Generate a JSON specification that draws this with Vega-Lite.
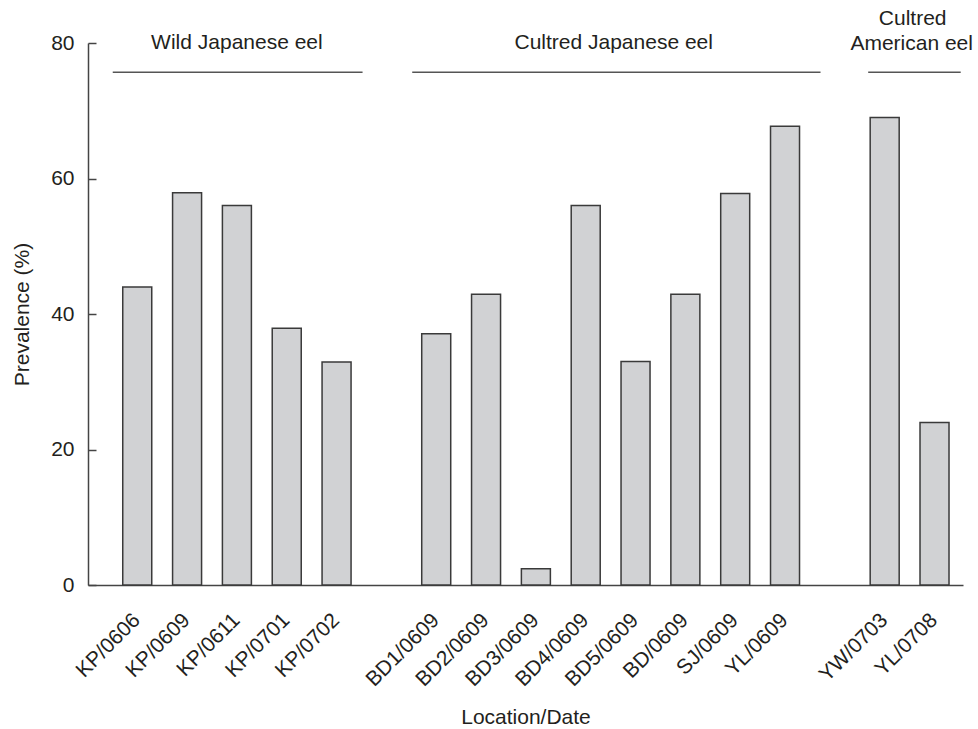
{
  "$schema": "https://vega.github.io/schema/vega-lite/v6.json",
  "autosize": "none",
  "width": 875,
  "height": 542,
  "padding": {"left": 88, "top": 43, "right": 15, "bottom": 144},
  "background": "white",
  "config": {
    "view": {"stroke": null},
    "font": "Liberation Sans",
    "text": {"font": "Liberation Sans", "fontSize": 21, "color": "#231f20"}
  },
  "datasets": {
    "prevalence": [
      {"site": "KP/0606", "prevalence": 44},
      {"site": "KP/0609", "prevalence": 57.9},
      {"site": "KP/0611", "prevalence": 56},
      {"site": "KP/0701", "prevalence": 37.9},
      {"site": "KP/0702", "prevalence": 32.9},
      {"site": "BD1/0609", "prevalence": 37.1},
      {"site": "BD2/0609", "prevalence": 42.9},
      {"site": "BD3/0609", "prevalence": 2.4},
      {"site": "BD4/0609", "prevalence": 56},
      {"site": "BD5/0609", "prevalence": 33},
      {"site": "BD/0609", "prevalence": 42.9},
      {"site": "SJ/0609", "prevalence": 57.8},
      {"site": "YL/0609", "prevalence": 67.7},
      {"site": "YW/0703", "prevalence": 69},
      {"site": "YL/0708", "prevalence": 24}
    ]
  },
  "layer": [
    {
      "data": {"name": "prevalence"},
      "mark": {"type": "bar", "fill": "#d1d2d4", "stroke": "#3a3a3a", "strokeWidth": 1.5},
      "encoding": {
        "x": {
          "field": "site",
          "type": "nominal",
          "sort": null,
          "scale": {
            "domain": ["KP/0606", "KP/0609", "KP/0611", "KP/0701", "KP/0702", "gap1", "BD1/0609", "BD2/0609", "BD3/0609", "BD4/0609", "BD5/0609", "BD/0609", "SJ/0609", "YL/0609", "gap2", "YW/0703", "YL/0708"],
            "paddingInner": 0.418,
            "paddingOuter": 0.489,
            "align": 0.713
          },
          "axis": {
            "title": "Location/Date",
            "labelExpr": "indexof(datum.value, 'gap') == 0 ? '' : datum.value",
            "labelAngle": -45,
            "labelFont": "Liberation Sans",
            "labelFontSize": 21,
            "labelColor": "#231f20",
            "labelPadding": 24,
            "labelOffset": -8,
            "ticks": false,
            "domain": true,
            "domainColor": "#444444",
            "domainWidth": 1.5,
            "titleFont": "Liberation Sans",
            "titleFontSize": 21,
            "titleFontWeight": "normal",
            "titleColor": "#231f20",
            "titlePadding": 17
          }
        },
        "y": {
          "field": "prevalence",
          "type": "quantitative",
          "scale": {"domain": [0, 80], "nice": false},
          "axis": {
            "title": "Prevalence (%)",
            "values": [0, 20, 40, 60, 80],
            "grid": false,
            "tickSize": -8,
            "tickColor": "#444444",
            "tickWidth": 1.5,
            "domainColor": "#444444",
            "domainWidth": 1.5,
            "labelFont": "Liberation Sans",
            "labelFontSize": 21,
            "labelColor": "#231f20",
            "labelPadding": 22,
            "titleFont": "Liberation Sans",
            "titleFontSize": 21,
            "titleFontWeight": "normal",
            "titleColor": "#231f20",
            "titlePadding": 18
          }
        }
      }
    },
    {
      "data": {"values": [{"first": "KP/0606", "last": "KP/0702"}]},
      "mark": {"type": "rule", "stroke": "#555555", "strokeWidth": 1.5, "xOffset": -10, "x2Offset": 11.5},
      "encoding": {
        "x": {"field": "first", "type": "nominal", "bandPosition": 0},
        "x2": {"field": "last", "bandPosition": 1},
        "y": {"datum": 75.7}
      }
    },
    {
      "data": {"values": [{"first": "BD1/0609", "last": "YL/0609"}]},
      "mark": {"type": "rule", "stroke": "#555555", "strokeWidth": 1.5, "xOffset": -9.5, "x2Offset": 21},
      "encoding": {
        "x": {"field": "first", "type": "nominal", "bandPosition": 0},
        "x2": {"field": "last", "bandPosition": 1},
        "y": {"datum": 75.7}
      }
    },
    {
      "data": {"values": [{"first": "YW/0703", "last": "YL/0708"}]},
      "mark": {"type": "rule", "stroke": "#555555", "strokeWidth": 1.5, "xOffset": -2, "x2Offset": 11.7},
      "encoding": {
        "x": {"field": "first", "type": "nominal", "bandPosition": 0},
        "x2": {"field": "last", "bandPosition": 1},
        "y": {"datum": 75.7}
      }
    },
    {
      "data": {"values": [{"anchor": "KP/0611", "label": "Wild Japanese eel"}]},
      "mark": {"type": "text", "align": "center", "baseline": "alphabetic", "dy": 6},
      "encoding": {
        "x": {"field": "anchor", "type": "nominal"},
        "y": {"datum": 80},
        "text": {"field": "label"}
      }
    },
    {
      "data": {"values": [{"anchor": "BD4/0609", "label": "Cultred Japanese eel"}]},
      "mark": {"type": "text", "align": "center", "baseline": "alphabetic", "dy": 6, "dx": 28},
      "encoding": {
        "x": {"field": "anchor", "type": "nominal"},
        "y": {"datum": 80},
        "text": {"field": "label"}
      }
    },
    {
      "data": {"values": [{"anchor": "YW/0703", "label": "American eel"}]},
      "mark": {"type": "text", "align": "center", "baseline": "alphabetic", "dy": 6.5, "dx": 27},
      "encoding": {
        "x": {"field": "anchor", "type": "nominal"},
        "y": {"datum": 80},
        "text": {"field": "label"}
      }
    },
    {
      "data": {"values": [{"anchor": "YW/0703", "label": "Cultred"}]},
      "mark": {"type": "text", "align": "center", "baseline": "alphabetic", "dy": -17.7, "dx": 28},
      "encoding": {
        "x": {"field": "anchor", "type": "nominal"},
        "y": {"datum": 80},
        "text": {"field": "label"}
      }
    }
  ]
}
